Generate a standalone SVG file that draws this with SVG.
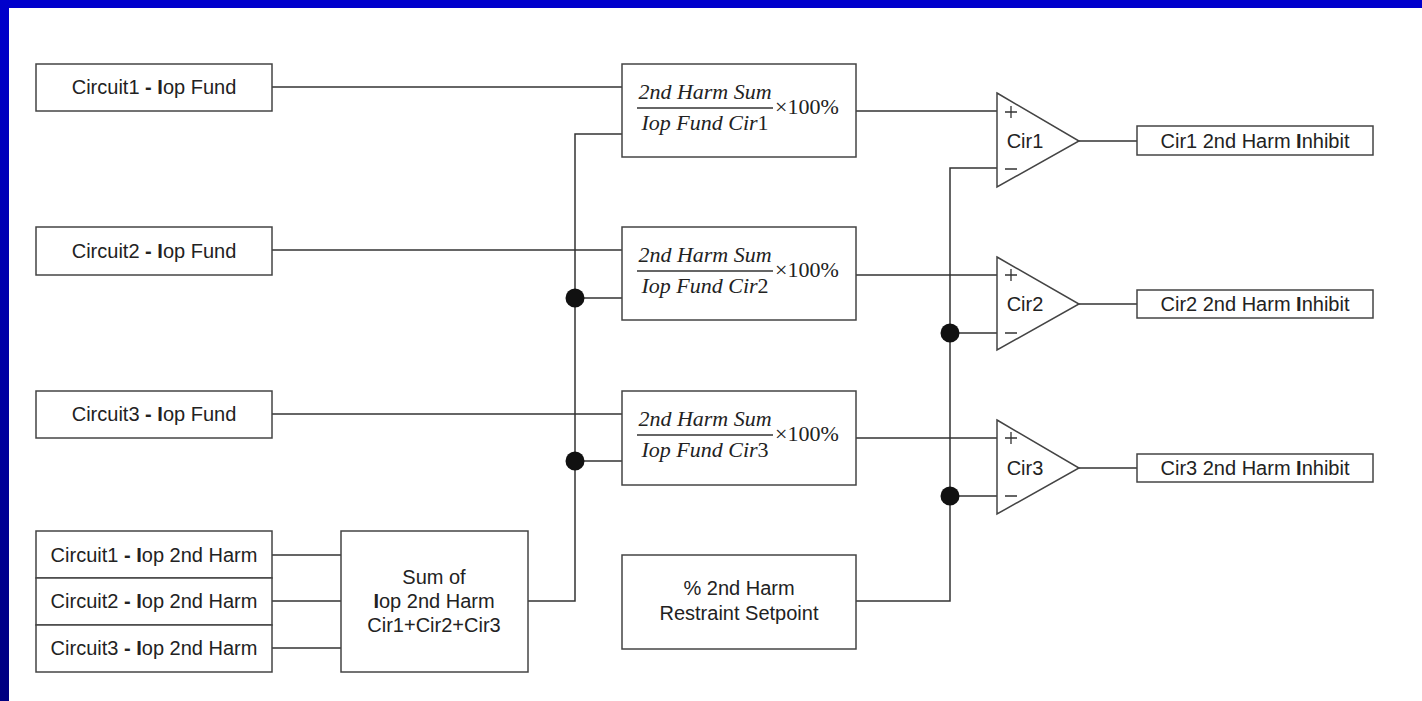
<svg xmlns="http://www.w3.org/2000/svg" width="1422" height="701" viewBox="0 0 1422 701">
<defs>
<linearGradient id="lb" x1="0" y1="0" x2="0" y2="1">
<stop offset="0" stop-color="#0000CC"/>
<stop offset="1" stop-color="#000080"/>
</linearGradient>
<style>
.bx{fill:#fff;stroke:#444;stroke-width:1.5}
.ln{fill:none;stroke:#333;stroke-width:1.5}
.t{font-family:"Liberation Sans",Arial,sans-serif;font-size:20px;fill:#222;text-anchor:middle}
.f{font-family:"Liberation Serif","Times New Roman",serif;font-size:22px;fill:#222;font-style:italic}
.u{font-style:normal}
.b{font-weight:bold}
.dot{fill:#111}
.sg{fill:none;stroke:#333;stroke-width:1.3}
</style>
</defs>
<rect x="0" y="0" width="1422" height="701" fill="#fff"/>
<rect x="0" y="0" width="1422" height="8" fill="#0000CC"/>
<rect x="0" y="0" width="9" height="701" fill="url(#lb)"/>

<g id="connectors">
<path class="ln" d="M272 87H622"/>
<path class="ln" d="M272 250H622"/>
<path class="ln" d="M272 414H622"/>
<path class="ln" d="M272 555H341M272 601H341M272 648H341"/>
<path class="ln" d="M528 601H575V134H622"/>
<path class="ln" d="M575 298H622M575 461H622"/>
<path class="ln" d="M856 111H997M856 275H997M856 438H997"/>
<path class="ln" d="M856 601H950V168H997M950 333H997M950 496H997"/>
<path class="ln" d="M1079 141H1137M1079 304H1137M1079 468H1137"/>
<circle class="dot" cx="575" cy="298" r="9.5"/>
<circle class="dot" cx="575" cy="461" r="9.5"/>
<circle class="dot" cx="950" cy="333" r="9.5"/>
<circle class="dot" cx="950" cy="496" r="9.5"/>
</g>

<g id="in1"><rect class="bx" x="36" y="64" width="236" height="47"/><text class="t" x="154" y="94">Circuit1 <tspan class="b">-</tspan> <tspan class="b">I</tspan>op Fund</text></g>
<g id="in2"><rect class="bx" x="36" y="227" width="236" height="48"/><text class="t" x="154" y="258">Circuit2 <tspan class="b">-</tspan> <tspan class="b">I</tspan>op Fund</text></g>
<g id="in3"><rect class="bx" x="36" y="391" width="236" height="47"/><text class="t" x="154" y="421">Circuit3 <tspan class="b">-</tspan> <tspan class="b">I</tspan>op Fund</text></g>

<g id="h1"><rect class="bx" x="36" y="531" width="236" height="47"/><text class="t" x="154" y="562">Circuit1 <tspan class="b">-</tspan> <tspan class="b">I</tspan>op 2nd Harm</text></g>
<g id="h2"><rect class="bx" x="36" y="578" width="236" height="47"/><text class="t" x="154" y="608">Circuit2 <tspan class="b">-</tspan> <tspan class="b">I</tspan>op 2nd Harm</text></g>
<g id="h3"><rect class="bx" x="36" y="625" width="236" height="47"/><text class="t" x="154" y="655">Circuit3 <tspan class="b">-</tspan> <tspan class="b">I</tspan>op 2nd Harm</text></g>

<g id="sum"><rect class="bx" x="341" y="531" width="187" height="141"/>
<text class="t" x="434" y="584">Sum of</text>
<text class="t" x="434" y="608"><tspan class="b">I</tspan>op 2nd Harm</text>
<text class="t" x="434" y="632">Cir1+Cir2+Cir3</text></g>

<g id="r1"><rect class="bx" x="622" y="64" width="234" height="93"/>
<text class="f" x="705" y="99" text-anchor="middle">2nd Harm Sum</text>
<path class="ln" d="M637 108H773" stroke-width="1.3"/>
<text class="f" x="705" y="130" text-anchor="middle">Iop Fund Cir<tspan class="u">1</tspan></text>
<text class="f u" x="775" y="114">×100%</text></g>
<g id="r2"><rect class="bx" x="622" y="227" width="234" height="93"/>
<text class="f" x="705" y="262" text-anchor="middle">2nd Harm Sum</text>
<path class="ln" d="M637 271H773" stroke-width="1.3"/>
<text class="f" x="705" y="293" text-anchor="middle">Iop Fund Cir<tspan class="u">2</tspan></text>
<text class="f u" x="775" y="277">×100%</text></g>
<g id="r3"><rect class="bx" x="622" y="391" width="234" height="94"/>
<text class="f" x="705" y="426" text-anchor="middle">2nd Harm Sum</text>
<path class="ln" d="M637 435H773" stroke-width="1.3"/>
<text class="f" x="705" y="457" text-anchor="middle">Iop Fund Cir<tspan class="u">3</tspan></text>
<text class="f u" x="775" y="441">×100%</text></g>

<g id="setpoint"><rect class="bx" x="622" y="555" width="234" height="94"/>
<text class="t" x="739" y="595">% 2nd Harm</text>
<text class="t" x="739" y="620">Restraint Setpoint</text></g>

<g id="c1"><path class="bx" d="M997 93L1079 141L997 187Z"/>
<path class="sg" d="M1005 112H1017M1011 106V118M1005 169H1017"/>
<text class="t" x="1025" y="148">Cir1</text></g>
<g id="c2"><path class="bx" d="M997 257L1079 304L997 350Z"/>
<path class="sg" d="M1005 275H1017M1011 269V281M1005 333H1017"/>
<text class="t" x="1025" y="311">Cir2</text></g>
<g id="c3"><path class="bx" d="M997 420L1079 468L997 514Z"/>
<path class="sg" d="M1005 438H1017M1011 432V444M1005 496H1017"/>
<text class="t" x="1025" y="475">Cir3</text></g>

<g id="o1"><rect class="bx" x="1137" y="126" width="236" height="29"/><text class="t" x="1255" y="148">Cir1 2nd Harm <tspan class="b">I</tspan>nhibit</text></g>
<g id="o2"><rect class="bx" x="1137" y="290" width="236" height="28"/><text class="t" x="1255" y="311">Cir2 2nd Harm <tspan class="b">I</tspan>nhibit</text></g>
<g id="o3"><rect class="bx" x="1137" y="454" width="236" height="28"/><text class="t" x="1255" y="475">Cir3 2nd Harm <tspan class="b">I</tspan>nhibit</text></g>
</svg>
